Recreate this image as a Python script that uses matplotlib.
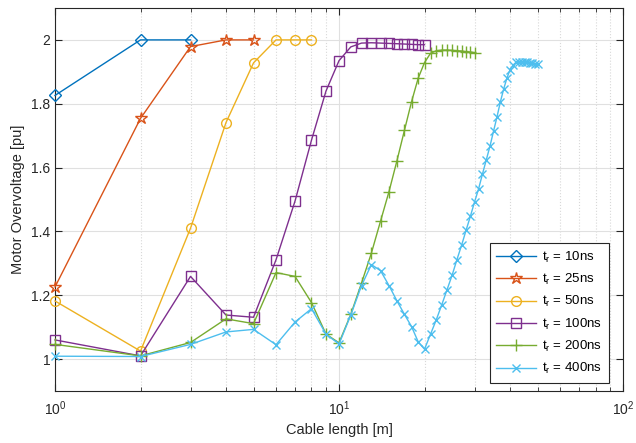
import numpy as np
import matplotlib.pyplot as plt

# Datos (longitud de cable en m, sobretension en pu)
x_10 = [1, 2, 3]
y_10 = [1.826, 2.0, 2.0]

x_25 = [1, 2, 3, 4, 5]
y_25 = [1.226, 1.754, 1.979, 2.0, 2.0]

x_50 = [1, 2, 3, 4, 5, 6, 7, 8]
y_50 = [1.182, 1.025, 1.41, 1.741, 1.928, 2.0, 2.0, 2.0]

x_100 = list(range(1, 21))
y_100 = [1.06, 1.01, 1.259, 1.138, 1.131, 1.311, 1.495, 1.686, 1.84, 1.935,
         1.978, 1.99, 1.991, 1.99, 1.989, 1.988, 1.987, 1.986, 1.985, 1.985]

x_200 = list(range(1, 31))
y_200 = [1.046, 1.01, 1.052, 1.126, 1.111, 1.271, 1.259, 1.177, 1.078, 1.051,
         1.14, 1.238, 1.332, 1.432, 1.525, 1.622, 1.717, 1.806, 1.88, 1.929,
         1.958, 1.966, 1.968, 1.968, 1.967, 1.966, 1.965, 1.963, 1.962, 1.96]

x_400 = list(range(1, 51))
y_400 = [1.009, 1.008, 1.046, 1.085, 1.093, 1.045, 1.116, 1.158, 1.078, 1.047,
         1.138, 1.23, 1.296, 1.277, 1.23, 1.182, 1.14, 1.102, 1.054, 1.031,
         1.078, 1.123, 1.17, 1.217, 1.262, 1.311, 1.356, 1.403, 1.447, 1.492,
         1.533, 1.58, 1.624, 1.667, 1.714, 1.759, 1.806, 1.846, 1.88, 1.906,
         1.921, 1.93, 1.932, 1.932, 1.931, 1.93, 1.929, 1.928, 1.926, 1.924]

etiquetas = ['10ns', '25ns', '50ns', '100ns', '200ns', '400ns']
colores = ['#0072BD', '#D95319', '#EDB120', '#7E2F8E', '#77AC30', '#4DBEEE']
marcadores = ['D', '*', 'o', 's', '+', 'x']
tamanos = [6, 9, 7, 7, 8, 6]

plt.rcParams['font.family'] = ['Liberation Sans', 'DejaVu Sans']

fig = plt.figure(figsize=(6.36, 4.43), dpi=100)
ax = fig.add_axes([0.0865, 0.1174, 0.8931, 0.8646])

series = [(x_10, y_10), (x_25, y_25), (x_50, y_50),
          (x_100, y_100), (x_200, y_200), (x_400, y_400)]
for (xs, ys), et, c, m, s in zip(series, etiquetas, colores, marcadores, tamanos):
    ax.plot(xs, ys, color=c, marker=m, markersize=s, markerfacecolor='none',
            markeredgewidth=1.0, linewidth=1.0, clip_on=False, zorder=3,
            label=r'$\mathregular{t_r}$ = ' + et)

ax.set_xscale('log')
ax.set_xlim(1, 100)
ax.set_ylim(0.9, 2.1)
ax.set_yticks([1, 1.2, 1.4, 1.6, 1.8, 2])
ax.set_yticklabels(['1', '1.2', '1.4', '1.6', '1.8', '2'])

ax.grid(True, which='major', color='#e0e0e0', linestyle='-', linewidth=0.8)
ax.grid(True, which='minor', axis='x', color='#d8d8d8', linestyle=':', linewidth=0.8)
ax.set_axisbelow(True)

ax.tick_params(which='both', direction='in', top=True, right=True,
               colors='#262626', labelsize=10)
ax.tick_params(which='major', length=5)
ax.tick_params(which='minor', length=3)
ax.tick_params(axis='x', which='major', pad=6)
for sp in ax.spines.values():
    sp.set_color('#262626')
    sp.set_linewidth(0.8)

ax.set_xlabel('Cable length [m]', fontsize=10.5, color='#262626')
ax.set_ylabel('Motor Overvoltage [pu]', fontsize=10.5, color='#262626')

leg = ax.legend(loc='lower right', bbox_to_anchor=(0.975, 0.021), borderaxespad=0,
                fontsize=9.5, fancybox=False, framealpha=1, edgecolor='#262626',
                handlelength=3.0, handletextpad=0.5, labelspacing=0.55,
                borderpad=0.5)
leg.get_frame().set_linewidth(0.8)
leg.set_zorder(5)

plt.savefig('out.png', dpi=100)
